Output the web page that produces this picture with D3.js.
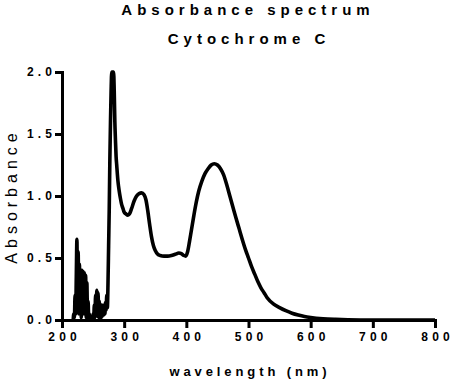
<!DOCTYPE html>
<html><head><meta charset="utf-8">
<script src="https://cdn.jsdelivr.net/npm/d3@7"></script>
<style>body{margin:0;background:#fff}svg{display:block}text{font-family:"Liberation Sans",Arial,sans-serif}</style>
</head><body><svg id="c" width="450" height="381"></svg>
<script>
const titleLines = ["Absorbance spectrum", "Cytochrome C"];
const xLabel = "wavelength (nm)";
const yLabel = "Absorbance";
const xTicks = [200, 300, 400, 500, 600, 700, 800];
const yTicks = [0, 0.5, 1.0, 1.5, 2.0];
const wavelength = [218,219,220,221,222,223,224,225,226,227,228,229,230,231,232,233,234,235,236,237,238,239,240,241,242,243,244,245,246,247,248,249,250,251,252,253,254,255,256,257,258,259,260,261,262,263,264,265,266,267,268,269,270,271,272,273,274,275,276,277,278,279,280,281,282,283,284,285,286,287,288,290,292,294,296,298,300,303,306,309,312,316,320,324,328,332,335,338,341,344,347,350,354,358,364,370,376,382,388,392,396,399,402,405,408,412,416,420,425,430,435,440,445,450,455,460,465,470,475,480,485,490,495,500,505,510,515,520,525,530,540,550,560,570,580,590,600,620,640,660,700,800];
const absorbance = [0,0.05,0.02,0.2,0.05,0.35,0.65,0.1,0.55,0.05,0.45,0.15,0.38,0.02,0.4,0.1,0.39,0.05,0.38,0.2,0.36,0.02,0.3,0.05,0.15,0,0.05,0,0.01,0,0.02,0,0.05,0.01,0.12,0.02,0.2,0.05,0.24,0.03,0.22,0.02,0.15,0.01,0.1,0.02,0.12,0.03,0.1,0.04,0.12,0.05,0.14,0.08,0.2,0.1,0.3,0.6,0.9,1.3,1.6,1.85,2.0,2.0,2.0,2.0,1.85,1.6,1.45,1.32,1.25,1.12,1.04,0.98,0.93,0.9,0.87,0.855,0.845,0.86,0.9,0.96,1.0,1.02,1.025,1.01,0.97,0.88,0.77,0.67,0.6,0.56,0.53,0.52,0.515,0.515,0.52,0.53,0.54,0.535,0.52,0.515,0.55,0.63,0.72,0.84,0.95,1.04,1.12,1.18,1.22,1.25,1.26,1.25,1.22,1.17,1.09,1.0,0.91,0.82,0.735,0.65,0.57,0.5,0.43,0.37,0.31,0.26,0.22,0.18,0.13,0.1,0.075,0.055,0.04,0.028,0.02,0.01,0.005,0.002,0,0];

const svg = d3.select("#c");
const x = d3.scaleLinear().domain([200, 800]).range([62, 435]);
const y = d3.scaleLinear().domain([0, 2]).range([320, 72]);

const pts = wavelength.map((w, i) => [w, absorbance[i]]);
svg.append("path").datum(pts)
  .attr("fill", "none").attr("stroke", "#000").attr("stroke-width", 3.6)
  .attr("stroke-linejoin", "round")
  .attr("d", d3.line().curve(d3.curveMonotoneX).x(d => x(d[0])).y(d => y(d[1])));

const xa = svg.append("g").attr("transform", "translate(0,320)")
  .call(d3.axisBottom(x).tickValues(xTicks).tickSize(8).tickPadding(4).tickFormat(d3.format("d")));
const ya = svg.append("g").attr("transform", "translate(62,0)")
  .call(d3.axisLeft(y).tickValues(yTicks).tickSize(7).tickPadding(3).tickFormat(d3.format(".1f")));
[xa, ya].forEach(a => {
  a.selectAll("path").attr("stroke", "#000").attr("stroke-width", 3);
  a.selectAll("line").attr("stroke", "#000").attr("stroke-width", 3);
  a.selectAll("text").attr("fill", "#000").attr("font-size", 12).attr("font-weight", "bold")
    .attr("font-family", "Liberation Sans, Arial, sans-serif")
    .each(function() {
      const t = d3.select(this), s = t.text();
      t.text(null);
      t.append("tspan").style("letter-spacing", "4.2px").text(s.slice(0, -1));
      t.append("tspan").style("letter-spacing", "0px").text(s.slice(-1));
    });
});

svg.append("text").attr("x", 248).attr("y", 15).attr("text-anchor", "middle")
  .attr("font-size", 15).attr("font-weight", "bold").style("letter-spacing", "5px").text(titleLines[0]);
svg.append("text").attr("x", 249).attr("y", 44).attr("text-anchor", "middle")
  .attr("font-size", 15).attr("font-weight", "bold").style("letter-spacing", "5px").text(titleLines[1]);
svg.append("text").attr("x", 250).attr("y", 376).attr("text-anchor", "middle")
  .attr("font-size", 13).attr("font-weight", "bold").style("letter-spacing", "3.9px").text(xLabel);
svg.append("text").attr("transform", "translate(16.5,196) rotate(-90)").attr("text-anchor", "middle")
  .attr("font-size", 16).style("letter-spacing", "5px").text(yLabel);
</script></body></html>
